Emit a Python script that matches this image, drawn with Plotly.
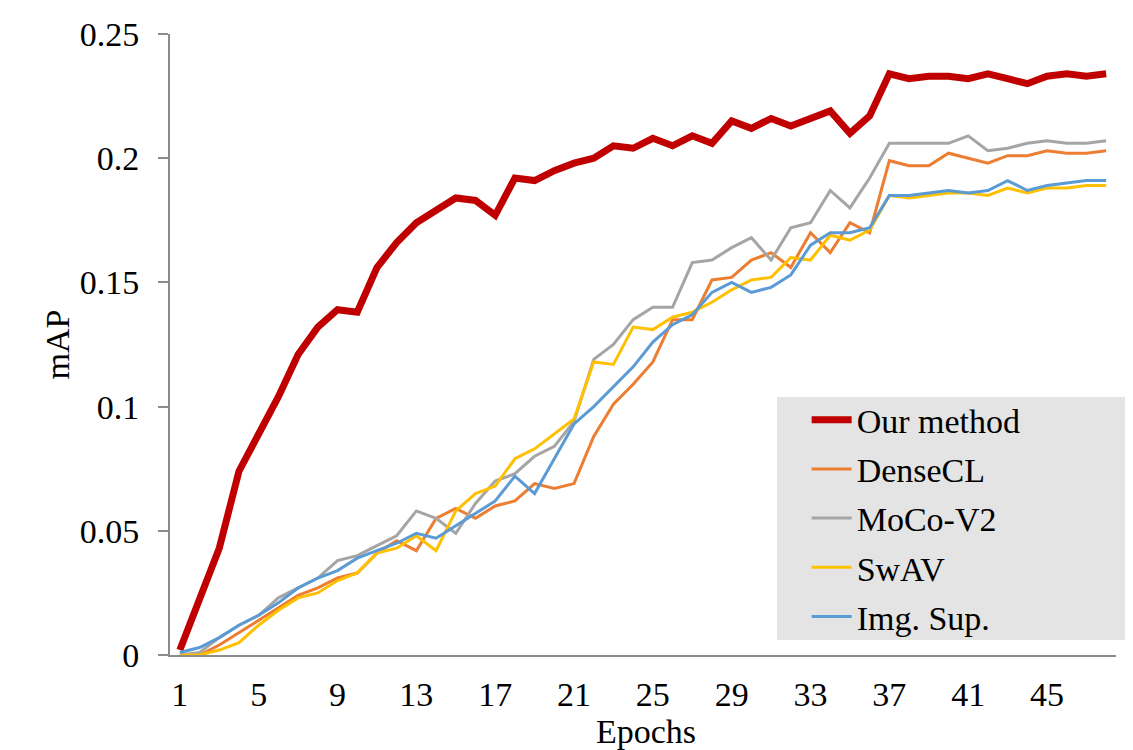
import plotly.graph_objects as go

epochs = list(range(1, 49))
tick_epochs = [1, 5, 9, 13, 17, 21, 25, 29, 33, 37, 41, 45]
y_ticks = [0, 0.05, 0.1, 0.15, 0.2, 0.25]
y_tick_text = ["0", "0.05", "0.1", "0.15", "0.2", "0.25"]

our_method = [0.002, 0.022, 0.043, 0.074, 0.089, 0.104, 0.121, 0.132, 0.139, 0.138,
              0.156, 0.166, 0.174, 0.179, 0.184, 0.183, 0.177, 0.192, 0.191, 0.195,
              0.198, 0.200, 0.205, 0.204, 0.208, 0.205, 0.209, 0.206, 0.215, 0.212,
              0.216, 0.213, 0.216, 0.219, 0.210, 0.217, 0.234, 0.232, 0.233, 0.233,
              0.232, 0.234, 0.232, 0.230, 0.233, 0.234, 0.233, 0.234]
densecl = [0.000, 0.000, 0.004, 0.009, 0.014, 0.019, 0.024, 0.027, 0.031, 0.033,
           0.041, 0.046, 0.042, 0.055, 0.059, 0.055, 0.060, 0.062, 0.069, 0.067,
           0.069, 0.088, 0.101, 0.109, 0.118, 0.135, 0.135, 0.151, 0.152, 0.159,
           0.162, 0.156, 0.170, 0.162, 0.174, 0.170, 0.199, 0.197, 0.197, 0.202,
           0.200, 0.198, 0.201, 0.201, 0.203, 0.202, 0.202, 0.203]
moco_v2 = [0.000, 0.001, 0.007, 0.012, 0.016, 0.023, 0.027, 0.031, 0.038, 0.040,
           0.044, 0.048, 0.058, 0.055, 0.049, 0.061, 0.070, 0.073, 0.080, 0.084,
           0.094, 0.119, 0.125, 0.135, 0.140, 0.140, 0.158, 0.159, 0.164, 0.168,
           0.159, 0.172, 0.174, 0.187, 0.180, 0.192, 0.206, 0.206, 0.206, 0.206,
           0.209, 0.203, 0.204, 0.206, 0.207, 0.206, 0.206, 0.207]
swav = [0.000, 0.000, 0.002, 0.005, 0.012, 0.018, 0.023, 0.025, 0.030, 0.033,
        0.041, 0.043, 0.048, 0.042, 0.058, 0.065, 0.068, 0.079, 0.083, 0.089,
        0.095, 0.118, 0.117, 0.132, 0.131, 0.136, 0.138, 0.142, 0.147, 0.151,
        0.152, 0.160, 0.159, 0.169, 0.167, 0.171, 0.185, 0.184, 0.185, 0.186,
        0.186, 0.185, 0.188, 0.186, 0.188, 0.188, 0.189, 0.189]
img_sup = [0.001, 0.003, 0.007, 0.012, 0.016, 0.021, 0.027, 0.031, 0.034, 0.039,
           0.042, 0.045, 0.049, 0.047, 0.052, 0.057, 0.062, 0.072, 0.065, 0.079,
           0.093, 0.100, 0.108, 0.116, 0.126, 0.133, 0.137, 0.146, 0.150, 0.146,
           0.148, 0.153, 0.165, 0.170, 0.170, 0.172, 0.185, 0.185, 0.186, 0.187,
           0.186, 0.187, 0.191, 0.187, 0.189, 0.190, 0.191, 0.191]

series = [
    ("Our method", our_method, "#c00000", 7),
    ("DenseCL", densecl, "#ed7d31", 3),
    ("MoCo-V2", moco_v2, "#a5a5a5", 3),
    ("SwAV", swav, "#ffc000", 3),
    ("Img. Sup.", img_sup, "#5b9bd5", 3),
]

FONT = "Liberation Serif"
FS = 34
AXIS_COLOR = "#8c8c8c"

fig = go.Figure()
for i, (name, vals, color, w) in enumerate(series):
    fig.add_trace(go.Scatter(
        x=epochs, y=vals, mode="lines", name=name,
        line=dict(color=color, width=w),
        legendgroup=f"g{i}",
    ))

# grey legend panel
fig.add_shape(type="rect", xref="paper", yref="paper",
              x0=0.6416, x1=1.0116, y0=0.0242, y1=0.4155,
              fillcolor="#e4e4e4", line=dict(width=0), layer="below")
# small extension of the category axis line to the left of the value axis
fig.add_shape(type="line", xref="paper", yref="paper",
              x0=-0.0127, x1=0, y0=0, y1=0,
              line=dict(color=AXIS_COLOR, width=2), layer="above")

fig.add_annotation(text="Epochs", xref="paper", yref="paper",
                   x=0.503, y=0, xanchor="center", yanchor="middle", yshift=-76,
                   borderpad=0, showarrow=False,
                   font=dict(family=FONT, size=FS, color="black"))

fig.update_layout(
    width=1125, height=742,
    margin=dict(l=162, r=17, t=26, b=95),
    paper_bgcolor="white", plot_bgcolor="white",
    font=dict(family=FONT, size=FS, color="black"),
    showlegend=True,
    legend=dict(
        x=0.673, y=0.425, xanchor="left", yanchor="top",
        bgcolor="rgba(0,0,0,0)", borderwidth=0,
        font=dict(family=FONT, size=FS, color="black"),
        itemwidth=40, tracegroupgap=2,
    ),
    xaxis=dict(
        range=[0.5, 48.5], tickmode="array", tickvals=tick_epochs,
        ticktext=[str(t) for t in tick_epochs],
        showgrid=False, zeroline=False, showline=True,
        linecolor=AXIS_COLOR, linewidth=2, ticks="", automargin=False,
        ticklabelstandoff=8,
        tickfont=dict(family=FONT, size=FS),
    ),
    yaxis=dict(
        range=[0, 0.25], tickmode="array", tickvals=y_ticks, ticktext=y_tick_text,
        showgrid=False, zeroline=False, showline=True,
        linecolor=AXIS_COLOR, linewidth=2, ticks="outside", ticklen=10,
        tickcolor=AXIS_COLOR, tickwidth=2, automargin=False,
        ticklabelstandoff=12,
        tickfont=dict(family=FONT, size=FS),
        title=dict(text="mAP", font=dict(family=FONT, size=FS), standoff=0),
    ),
)

fig.write_html("out.html")
